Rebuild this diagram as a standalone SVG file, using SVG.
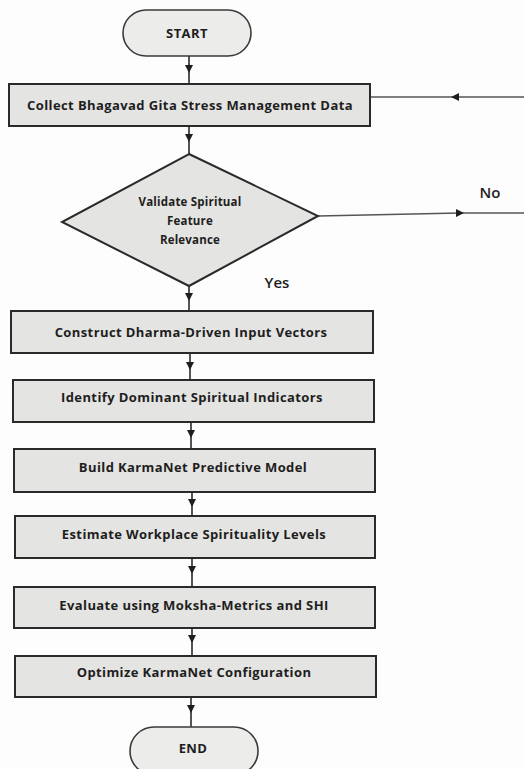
<svg xmlns="http://www.w3.org/2000/svg" width="524" height="769" viewBox="0 0 524 769">
<defs>
<style>
.bg{fill:#fdfdfd}
.box{fill:#e4e4e2;stroke:#2a2a2a;stroke-width:2}
.term{fill:#ececea;stroke:#3a3a3a;stroke-width:1.6}
.lbl{font-family:"Open Sans","Liberation Sans",sans-serif;font-weight:bold;font-size:13px;letter-spacing:0.4px;fill:#1e1e1e;text-anchor:middle;dominant-baseline:central}
.dlbl{font-family:"Open Sans","Liberation Sans",sans-serif;font-weight:bold;font-size:11.5px;letter-spacing:0.2px;fill:#1e1e1e;text-anchor:middle;dominant-baseline:central}
.side{font-family:"Open Sans","Liberation Sans",sans-serif;font-weight:600;font-size:15px;fill:#1e1e1e;text-anchor:middle;dominant-baseline:central}
.conn{fill:none;stroke:#2a2a2a;stroke-width:1.6;marker-mid:url(#ah)}
.conn2{fill:none;stroke:#555;stroke-width:1.5;marker-mid:url(#ah)}
</style>
<marker id="ah" viewBox="0 0 10 10" refX="5" refY="5" markerWidth="8" markerHeight="8" markerUnits="userSpaceOnUse" orient="auto">
<path d="M0,0 L10,5 L0,10 z" fill="#1e1e1e"/>
</marker>
</defs>
<rect class="bg" x="0" y="0" width="524" height="769"/>
<g id="connectors">
<polyline class="conn" points="189,56 189,69 189,84"/>
<polyline class="conn" points="189,126 189,138 189,154"/>
<polyline class="conn" points="189,286 189,297 189,311"/>
<polyline class="conn" points="190,353 190,366 190,380"/>
<polyline class="conn" points="191,422 191,434 191,449"/>
<polyline class="conn" points="192,492 192,503 192,516"/>
<polyline class="conn" points="192,558 192,570 192,587"/>
<polyline class="conn" points="192,628 192,639 192,656"/>
<polyline class="conn" points="191,697 191,709 191,727"/>
<polyline class="conn2" points="318,216 460,213 524,213"/>
<polyline class="conn2" points="524,97 455,97 370,97"/>
</g>
<g id="start">
<rect class="term" x="123" y="10" width="128" height="46" rx="23"/>
<text class="lbl" x="187" y="33">START</text>
</g>
<g id="collect">
<rect class="box" x="9" y="84" width="361" height="42"/>
<text class="lbl" x="190" y="105">Collect Bhagavad Gita Stress Management Data</text>
</g>
<g id="validate">
<polygon class="box" points="189,154 318,216 189,286 62,222"/>
<text class="dlbl" x="190" y="201">Validate Spiritual</text>
<text class="dlbl" x="190" y="220">Feature</text>
<text class="dlbl" x="190" y="239">Relevance</text>
</g>
<g id="labels">
<text class="side" x="277" y="282">Yes</text>
<text class="side" x="490" y="192">No</text>
</g>
<g id="construct">
<rect class="box" x="11" y="311" width="362" height="42"/>
<text class="lbl" x="191" y="332">Construct Dharma-Driven Input Vectors</text>
</g>
<g id="identify">
<rect class="box" x="13" y="380" width="361" height="42"/>
<text class="lbl" x="192" y="397">Identify Dominant Spiritual Indicators</text>
</g>
<g id="build">
<rect class="box" x="14" y="449" width="361" height="43"/>
<text class="lbl" x="193" y="467">Build KarmaNet Predictive Model</text>
</g>
<g id="estimate">
<rect class="box" x="15" y="516" width="360" height="42"/>
<text class="lbl" x="194" y="534">Estimate Workplace Spirituality Levels</text>
</g>
<g id="evaluate">
<rect class="box" x="14" y="587" width="361" height="41"/>
<text class="lbl" x="194" y="605">Evaluate using Moksha-Metrics and SHI</text>
</g>
<g id="optimize">
<rect class="box" x="15" y="656" width="361" height="41"/>
<text class="lbl" x="194" y="672">Optimize KarmaNet Configuration</text>
</g>
<g id="end">
<rect class="term" x="130" y="727" width="128" height="48" rx="24"/>
<text class="lbl" x="193" y="748">END</text>
</g>
</svg>
